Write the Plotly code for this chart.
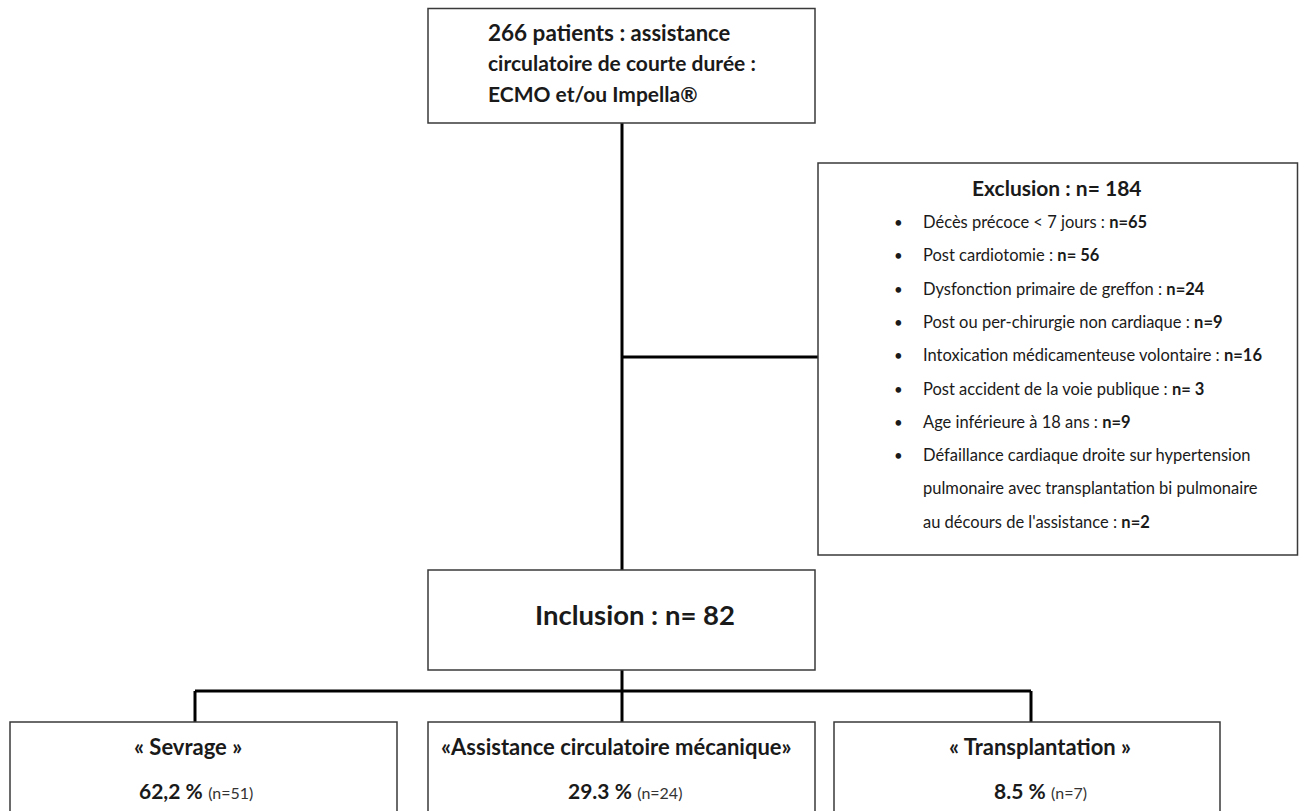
import plotly.graph_objects as go

# ---- data ----
total_patients = 266
top_lines = ["assistance", "circulatoire de courte durée :", "ECMO et/ou Impella®"]
exclusion_total = 184
exclusion_reasons = [
    "Décès précoce < 7 jours :", "Post cardiotomie :", "Dysfonction primaire de greffon :",
    "Post ou per-chirurgie non cardiaque :", "Intoxication médicamenteuse volontaire :",
    "Post accident de la voie publique :", "Age inférieure à 18 ans :",
    "Défaillance cardiaque droite sur hypertension|pulmonaire avec transplantation bi pulmonaire|au décours de l'assistance :",
]
exclusion_counts = ["n=65", "n= 56", "n=24", "n=9", "n=16", "n= 3", "n=9", "n=2"]
inclusion_total = 82
outcome_labels = ["« Sevrage »", "«Assistance circulatoire mécanique»", "« Transplantation »"]
outcome_pct = ["62,2 %", "29.3 %", "8.5 %"]
outcome_n = [51, 24, 7]

# ---- layout constants (pixels) ----
FONT = "Lato"
W, H = 1304, 811
BOX_X = [(10, 397), (428, 815), (834, 1220)]
TITLE_CX = [188, 616, 1040]
VALUE_CX = [196, 625, 1040]

fig = go.Figure()

def box(x0, y0, x1, y1):
    fig.add_shape(type="rect", x0=x0, y0=y0, x1=x1, y1=y1,
                  line=dict(color="#3a3a3a", width=1.5), fillcolor="white", layer="above")

def line(x0, y0, x1, y1):
    fig.add_shape(type="line", x0=x0, y0=y0, x1=x1, y1=y1,
                  line=dict(color="black", width=3), layer="below")

def text(x, y, s, size, anchor="center", bold=False, color="#1a1a1a"):
    if bold:
        s = "<b>" + s + "</b>"
    fig.add_annotation(x=x, y=y, text=s, showarrow=False, xanchor=anchor, yanchor="middle",
                       font=dict(family=FONT, size=size, color=color))

# connectors
line(622, 123, 622, 570)
line(622, 357, 818, 357)
line(622, 670, 622, 722)
line(195, 691, 1031, 691)
line(195, 691, 195, 722)
line(1031, 691, 1031, 722)

# top box
box(428, 8.5, 815, 123)
text(486, 32, f"<b><span style='font-size:22.5px'>{total_patients} patients :</span> {top_lines[0]}</b>", 22, "left")
text(486, 62, top_lines[1], 21, "left", bold=True)
text(486, 93, top_lines[2], 21, "left", bold=True)

# exclusion box
box(818, 163, 1297.5, 555)
text(1057, 187, f"Exclusion : n= {exclusion_total}", 21, bold=True)
y = 222
for reason, cnt in zip(exclusion_reasons, exclusion_counts):
    parts = reason.split("|")
    text(898, y, "•", 15)
    for i, p in enumerate(parts):
        s = p + (f" <b>{cnt}</b>" if i == len(parts) - 1 else "")
        text(921, y, s, 16.5, "left")
        y += 33.3

# inclusion box
box(428, 570, 815, 670)
text(635, 614, f"Inclusion : n= {inclusion_total}", 27.5, bold=True)

# outcome boxes
for (x0, x1), tcx, vcx, lab, pct, n in zip(BOX_X, TITLE_CX, VALUE_CX, outcome_labels, outcome_pct, outcome_n):
    box(x0, 722, x1, 840)
    text(tcx, 746, lab, 22, bold=True)
    text(vcx, 790, f"<b>{pct}</b> <span style='font-size:16px;color:#333'>(n={n})</span>", 21)

fig.update_xaxes(range=[0, W], visible=False, fixedrange=True)
fig.update_yaxes(range=[H, 0], visible=False, fixedrange=True)
fig.update_layout(width=W, height=H, margin=dict(l=0, r=0, t=0, b=0),
                  plot_bgcolor="white", paper_bgcolor="white", showlegend=False)
fig.write_html("out.html", config={"displayModeBar": False, "staticPlot": True},
               post_script="document.body.style.margin='0';document.body.style.overflow='hidden';")
